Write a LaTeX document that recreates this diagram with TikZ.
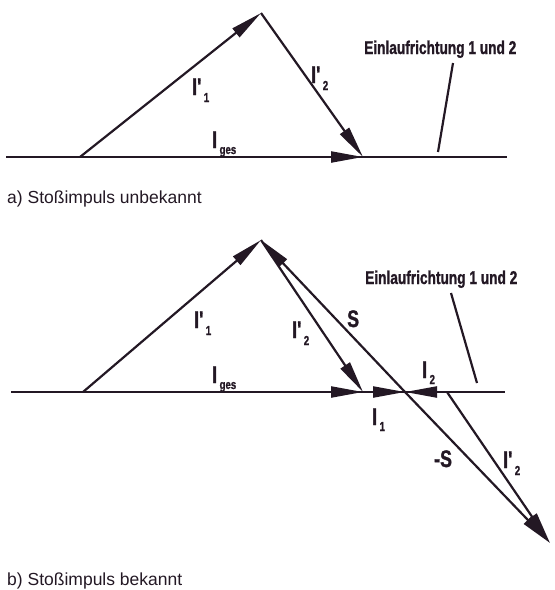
\documentclass[tikz,border=0pt]{standalone}
\usepackage{fontspec}
\setmainfont{Liberation Sans}
\newfontfamily\narrowfont[FakeStretch=0.74,FakeBold=1.2,Ligatures=TeXOff]{Liberation Sans}
\usetikzlibrary{arrows.meta}
\definecolor{ink}{RGB}{35,24,36}
\newcommand{\bigfont}{\narrowfont\bfseries\fontsize{24}{25}\selectfont}
\newcommand{\smallfont}{\narrowfont\bfseries\fontsize{13}{13}\selectfont}
\newcommand{\Ip}[1]{{\bigfont I\textquotesingle}\kern1pt\raisebox{-7pt}{\smallfont #1}}
\newcommand{\Is}[1]{{\bigfont I}\kern2.5pt\raisebox{-6pt}{\smallfont #1}}
\tikzset{
  vec/.style={draw=ink, line width=2.2pt, -{Triangle[length=32pt,width=11pt]}},
  axis/.style={draw=ink, line width=2.5pt},
  pointer/.style={draw=ink, line width=2.2pt},
  lab/.style={inner sep=0pt, anchor=base west, text=ink},
  einlauf/.style={inner sep=0pt, anchor=base west, text=ink, font=\narrowfont\bfseries\fontsize{18.5}{18.5}\selectfont},
  caption/.style={inner sep=0pt, anchor=base west, text=ink, font=\fontsize{17.5}{17.5}\selectfont}
}
\begin{document}
\begin{tikzpicture}[x=1pt,y=-1pt]
\useasboundingbox (0,0) rectangle (555,590);
% ---------- a) ----------
\coordinate (aL) at (6,157);
\coordinate (aR) at (507,157);
\coordinate (aA) at (80,157);
\coordinate (aP) at (261,13);
\coordinate (aQ) at (363,157);
\coordinate (aT1) at (453,63);
\coordinate (aT2) at (438,152);
\draw[axis] (aL) -- (aR);
\draw[vec] (aA) -- (aP);
\draw[vec] (aP) -- (aQ);
\draw[vec] (aA) -- (aQ);
\draw[pointer] (aT1) -- (aT2);
\node[einlauf] (aEin) at (364,54) {Einlaufrichtung 1 und 2};
\node[lab] (aI1) at (192,95) {\Ip{1}};
\node[lab] (aI2) at (311,83) {\Ip{2}};
\node[lab] (aIg) at (212,148) {\Is{ges}};
\node[caption] (capA) at (7,203) {a) Stoßimpuls unbekannt};
% ---------- b) ----------
\coordinate (bL) at (11,392);
\coordinate (bR) at (505,392);
\coordinate (bA) at (83,392);
\coordinate (bP) at (261,240);
\coordinate (bQ) at (363,392);
\coordinate (bX) at (405,392);
\coordinate (bR2) at (447,392);
\coordinate (bT) at (550,543);
\coordinate (bT1) at (451,293);
\coordinate (bT2) at (477,383);
\draw[axis] (bL) -- (bR);
\draw[vec] (bA) -- (bP);
\draw[vec] (bP) -- (bQ);
\draw[vec] (bA) -- (bQ);
\draw[vec] (bQ) -- (bX);
\draw[vec] (bR2) -- (bX);
\draw[vec] (bX) -- (bP);
\draw[vec] (bX) -- (bT);
\draw[vec] (bR2) -- (bT);
\draw[pointer] (bT1) -- (bT2);
\node[einlauf] (bEin) at (365,284) {Einlaufrichtung 1 und 2};
\node[lab] (bI1p) at (194,328) {\Ip{1}};
\node[lab] (bI2p) at (292,338) {\Ip{2}};
\node[lab, font=\bigfont] (bS) at (347,327) {S};
\node[lab] (bIg) at (212,383) {\Is{ges}};
\node[lab] (bI1) at (372,425) {\Is{1}};
\node[lab] (bI2) at (422,378) {\Is{2}};
\node[lab, font=\bigfont] (bmS) at (434,467) {-S};
\node[lab] (bI2q) at (503,468) {\Ip{2}};
\node[caption] (capB) at (7,585) {b) Stoßimpuls bekannt};
\end{tikzpicture}
\end{document}
